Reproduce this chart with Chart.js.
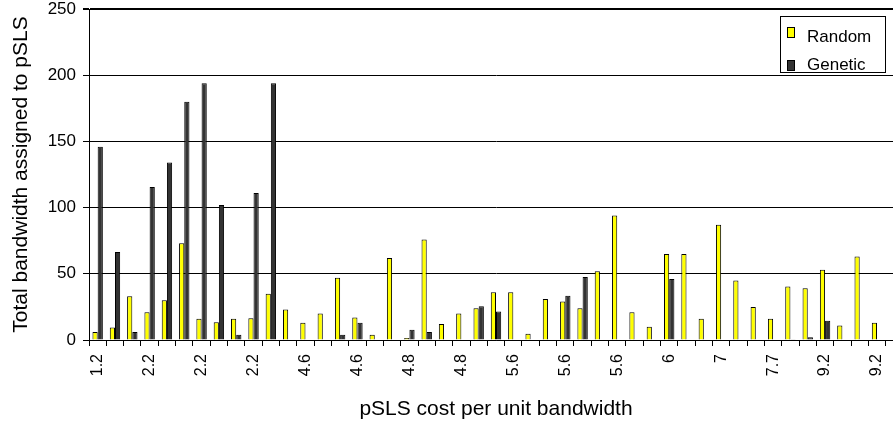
<!DOCTYPE html>
<html>
<head>
<meta charset="utf-8">
<script src="https://cdn.jsdelivr.net/npm/chart.js@4.4.1/dist/chart.umd.min.js"></script>
<style>
  html, body { margin: 0; padding: 0; background: #fff; overflow: hidden; }
</style>
</head>
<body>
<canvas id="chart" width="904" height="422"></canvas>
<script>
// tick labels, one for every third bar group
const costLabels = ['1.2', '2.2', '2.2', '2.2', '4.6', '4.6', '4.8', '4.8',
  '5.6', '5.6', '5.6', '6', '7', '7.7', '9.2', '9.2'];

const randomValues = [6, 9.5, 33, 21, 30, 73, 16, 13.5, 16, 16.5,
  35, 23, 13, 20, 47, 17, 4, 62, 1.6, 76,
  12, 20, 24, 36, 36, 4.7, 31, 29, 24, 52,
  94, 21, 10, 65, 65, 16, 87, 45, 25, 16,
  40.5, 39, 53, 11, 63, 13, null];

const geneticValues = [146, 66.5, 6, 115.5, 134, 180, 194, 102, 4, 111,
  194, 0.4, 0, 0, 4, 13, 0, 0, 7.7, 6,
  0, 0, 25.5, 21.5, 0, 0.4, 0, 33.5, 47.5, 0,
  0, 0, 0, 46, 0, 0, 0, 0, 0, 0,
  0.5, 2, 14.5, 0, 0, 0, null];

const categories = randomValues.map((v, i) => i);

const FONT = "'Liberation Sans', Arial, sans-serif";

// legend drawn inside a framed box at the top right, like the original
const boxLegend = {
  id: 'boxLegend',
  afterDraw(chart) {
    const ctx = chart.ctx;
    const swatchTop = [27, 60];
    const baseline = [41.5, 70];
    ctx.save();
    ctx.fillStyle = '#fff';
    ctx.fillRect(780, 16, 106, 57);
    ctx.strokeStyle = '#000';
    ctx.lineWidth = 1;
    ctx.strokeRect(780.5, 16.5, 105, 56);
    ctx.font = '17px ' + FONT;
    ctx.textBaseline = 'alphabetic';
    chart.data.datasets.forEach((ds, i) => {
      ctx.fillStyle = ds.backgroundColor;
      ctx.fillRect(787, swatchTop[i], 8, 11);
      ctx.strokeRect(787.5, swatchTop[i] + 0.5, 7, 10);
      ctx.fillStyle = '#000';
      ctx.fillText(ds.label, 807, baseline[i]);
    });
    ctx.restore();
  }
};

new Chart(document.getElementById('chart'), {
  type: 'bar',
  data: {
    labels: categories,
    datasets: [
      {
        label: 'Random',
        data: randomValues,
        backgroundColor: '#ffff00',
        borderColor: '#000',
        borderWidth: 1,
        categoryPercentage: 0.6,
        barPercentage: 1.0,
      },
      {
        label: 'Genetic',
        data: geneticValues,
        backgroundColor: '#333333',
        borderColor: '#000',
        borderWidth: 1,
        categoryPercentage: 0.6,
        barPercentage: 1.0,
      },
    ],
  },
  options: {
    responsive: false,
    animation: false,
    devicePixelRatio: 1,
    layout: { padding: { top: 9, right: 1, left: 0, bottom: 0 } },
    plugins: {
      legend: { display: false },
      tooltip: { enabled: false },
    },
    scales: {
      x: {
        afterFit: (scale) => {
          scale.height = 82;
          scale.paddingLeft = 0;
          scale.paddingRight = 0;
        },
        grid: {
          offset: true,
          drawOnChartArea: false,
          drawTicks: true,
          tickLength: 6,
          color: '#000',
        },
        border: { color: '#000', width: 1 },
        ticks: {
          autoSkip: false,
          minRotation: 90,
          maxRotation: 90,
          padding: 8,
          color: '#000',
          font: { family: FONT, size: 16 },
          callback: (value, index) => (index % 3 === 0 ? costLabels[index / 3] : ''),
        },
        title: {
          display: true,
          text: 'pSLS cost per unit bandwidth',
          color: '#000',
          font: { family: FONT, size: 21 },
          padding: { top: 0, bottom: 0 },
        },
      },
      y: {
        min: 0,
        max: 250,
        afterFit: (scale) => {
          scale.width = 89;
          scale.paddingTop = 0;
          scale.paddingBottom = 0;
        },
        grid: {
          color: '#000',
          lineWidth: (c) => (c.tick && c.tick.value === 250 ? 2 : 1),
          tickLength: 6,
        },
        border: { color: '#000', width: 1 },
        ticks: {
          stepSize: 50,
          padding: 7,
          color: '#000',
          font: { family: FONT, size: 17, lineHeight: 1.05 },
        },
        title: {
          display: true,
          text: 'Total bandwidth assigned to pSLS',
          color: '#000',
          font: { family: FONT, size: 21 },
          padding: { top: 9, bottom: 0 },
        },
      },
    },
  },
  plugins: [boxLegend],
});
</script>
</body>
</html>
